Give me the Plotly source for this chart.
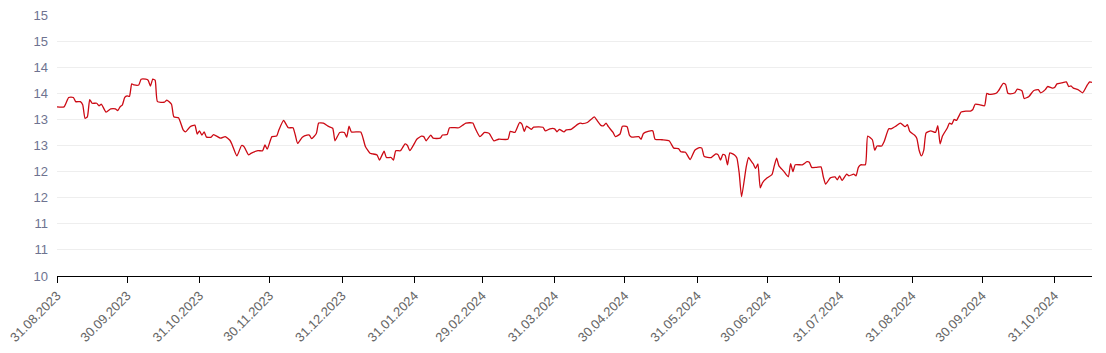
import plotly.graph_objects as go

dates = [
    "2023-08-31","2023-09-03","2023-09-05","2023-09-07","2023-09-08","2023-09-10","2023-09-11","2023-09-12",
    "2023-09-13","2023-09-14","2023-09-15","2023-09-17","2023-09-18","2023-09-19","2023-09-21","2023-09-23",
    "2023-09-25","2023-09-26","2023-09-27","2023-09-28","2023-09-29","2023-09-30","2023-10-01","2023-10-02",
    "2023-10-03","2023-10-05","2023-10-06","2023-10-08","2023-10-09","2023-10-10","2023-10-11","2023-10-12",
    "2023-10-13","2023-10-16","2023-10-17","2023-10-19","2023-10-20","2023-10-22","2023-10-24","2023-10-25",
    "2023-10-27","2023-10-29","2023-10-30","2023-10-31","2023-11-01","2023-11-02","2023-11-03","2023-11-05",
    "2023-11-06","2023-11-09","2023-11-11","2023-11-13","2023-11-14","2023-11-16","2023-11-18","2023-11-19",
    "2023-11-21","2023-11-22","2023-11-25","2023-11-27","2023-11-28","2023-11-29","2023-12-01","2023-12-03",
    "2023-12-04","2023-12-06","2023-12-08","2023-12-10","2023-12-11","2023-12-12","2023-12-14","2023-12-16",
    "2023-12-17","2023-12-18","2023-12-20","2023-12-21","2023-12-23","2023-12-25","2023-12-27","2023-12-28",
    "2023-12-30","2024-01-01","2024-01-02","2024-01-03","2024-01-04","2024-01-08","2024-01-09","2024-01-10",
    "2024-01-12","2024-01-13","2024-01-15","2024-01-16","2024-01-18","2024-01-19","2024-01-21","2024-01-22",
    "2024-01-23","2024-01-25","2024-01-27","2024-01-28","2024-01-29","2024-01-31","2024-02-01","2024-02-03",
    "2024-02-04","2024-02-05","2024-02-07","2024-02-08","2024-02-11","2024-02-12","2024-02-14","2024-02-15",
    "2024-02-19","2024-02-21","2024-02-22","2024-02-25","2024-02-26","2024-02-28","2024-03-01","2024-03-03",
    "2024-03-05","2024-03-07","2024-03-11","2024-03-12","2024-03-14","2024-03-16","2024-03-17","2024-03-18",
    "2024-03-19","2024-03-21","2024-03-22","2024-03-26","2024-03-27","2024-03-29","2024-03-31","2024-04-01",
    "2024-04-02","2024-04-04","2024-04-05","2024-04-07","2024-04-10","2024-04-11","2024-04-12","2024-04-14",
    "2024-04-17","2024-04-18","2024-04-20","2024-04-21","2024-04-22","2024-04-23","2024-04-25","2024-04-26",
    "2024-04-28","2024-04-29","2024-05-01","2024-05-02","2024-05-03","2024-05-06","2024-05-07","2024-05-08",
    "2024-05-10","2024-05-12","2024-05-13","2024-05-16","2024-05-19","2024-05-21","2024-05-23","2024-05-24",
    "2024-05-26","2024-05-28","2024-05-30","2024-06-01","2024-06-02","2024-06-03","2024-06-06","2024-06-08",
    "2024-06-09","2024-06-10","2024-06-11","2024-06-12","2024-06-13","2024-06-14","2024-06-16","2024-06-17",
    "2024-06-18","2024-06-19","2024-06-21","2024-06-22","2024-06-23","2024-06-24","2024-06-25","2024-06-26",
    "2024-06-27","2024-06-28","2024-06-30","2024-07-02","2024-07-03","2024-07-04","2024-07-05","2024-07-07",
    "2024-07-09","2024-07-10","2024-07-11","2024-07-12","2024-07-15","2024-07-17","2024-07-18","2024-07-19",
    "2024-07-21","2024-07-23","2024-07-24","2024-07-25","2024-07-27","2024-07-29","2024-07-30","2024-07-31",
    "2024-08-01","2024-08-03","2024-08-04","2024-08-06","2024-08-07","2024-08-08","2024-08-09","2024-08-11",
    "2024-08-12","2024-08-14","2024-08-15","2024-08-16","2024-08-18","2024-08-19","2024-08-21","2024-08-22",
    "2024-08-24","2024-08-26","2024-08-28","2024-08-29","2024-08-30","2024-09-01","2024-09-02","2024-09-03",
    "2024-09-04","2024-09-05","2024-09-06","2024-09-08","2024-09-10","2024-09-11","2024-09-12","2024-09-13",
    "2024-09-15","2024-09-16","2024-09-17","2024-09-18","2024-09-19","2024-09-21","2024-09-23","2024-09-25",
    "2024-09-26","2024-09-27","2024-09-29","2024-10-01","2024-10-02","2024-10-03","2024-10-06","2024-10-07",
    "2024-10-09","2024-10-10","2024-10-11","2024-10-12","2024-10-14","2024-10-15","2024-10-17","2024-10-18",
    "2024-10-20","2024-10-22","2024-10-24","2024-10-25","2024-10-27","2024-10-28","2024-10-30","2024-10-31",
    "2024-11-01","2024-11-03","2024-11-05","2024-11-06","2024-11-07","2024-11-08","2024-11-10","2024-11-12",
    "2024-11-14","2024-11-15","2024-11-16",
]

values = [
    13.24,13.24,13.42,13.42,13.34,13.34,13.28,13.02,
    13.05,13.38,13.31,13.31,13.26,13.29,13.14,13.20,
    13.20,13.17,13.24,13.28,13.42,13.45,13.44,13.68,
    13.66,13.66,13.77,13.77,13.75,13.64,13.77,13.75,
    13.34,13.33,13.37,13.29,13.05,13.03,12.80,12.76,
    12.86,12.89,12.72,12.78,12.70,12.76,12.66,12.66,
    12.71,12.64,12.67,12.60,12.51,12.30,12.50,12.48,
    12.32,12.35,12.40,12.40,12.51,12.43,12.67,12.68,
    12.80,12.98,12.84,12.84,12.70,12.54,12.66,12.70,
    12.70,12.63,12.73,12.93,12.93,12.87,12.83,12.59,
    12.75,12.75,12.66,12.87,12.76,12.76,12.64,12.48,
    12.35,12.34,12.32,12.22,12.39,12.27,12.27,12.22,
    12.40,12.40,12.53,12.50,12.40,12.54,12.62,12.68,
    12.67,12.59,12.70,12.64,12.64,12.70,12.71,12.84,
    12.84,12.90,12.93,12.93,12.83,12.67,12.75,12.73,
    12.59,12.62,12.62,12.77,12.75,12.94,12.91,12.77,
    12.87,12.81,12.85,12.85,12.78,12.82,12.82,12.76,
    12.81,12.76,12.80,12.81,12.91,12.93,12.92,12.94,
    13.05,12.99,12.88,12.88,12.93,12.86,12.75,12.67,
    12.72,12.87,12.86,12.70,12.66,12.67,12.62,12.73,
    12.77,12.78,12.62,12.61,12.59,12.45,12.44,12.38,
    12.37,12.23,12.41,12.46,12.45,12.29,12.27,12.34,
    12.32,12.22,12.33,12.31,12.13,12.36,12.32,12.26,
    11.97,11.52,12.09,12.27,12.21,12.15,12.06,12.15,
    11.69,11.79,11.88,11.94,12.11,12.26,12.11,12.01,
    11.90,12.15,12.00,12.13,12.13,12.19,12.18,12.08,
    12.08,12.09,11.90,11.76,11.88,11.90,11.84,11.92,
    11.83,11.95,11.92,11.95,11.92,12.08,12.13,12.13,
    12.68,12.61,12.41,12.49,12.49,12.57,12.82,12.82,
    12.87,12.93,12.86,12.90,12.77,12.70,12.64,12.41,
    12.30,12.41,12.74,12.78,12.75,12.88,12.53,12.68,
    12.83,12.93,12.91,13.00,12.98,13.14,13.16,13.16,
    13.19,13.29,13.28,13.26,13.50,13.48,13.50,13.55,
    13.69,13.67,13.50,13.49,13.51,13.58,13.55,13.40,
    13.44,13.55,13.57,13.51,13.57,13.63,13.60,13.61,
    13.68,13.70,13.72,13.63,13.64,13.60,13.57,13.51,
    13.66,13.72,13.71,
]

x_tick_vals = ["2023-08-31","2023-09-30","2023-10-31","2023-11-30","2023-12-31","2024-01-31",
               "2024-02-29","2024-03-31","2024-04-30","2024-05-31","2024-06-30","2024-07-31",
               "2024-08-31","2024-09-30","2024-10-31"]
x_tick_text = ["31.08.2023","30.09.2023","31.10.2023","30.11.2023","31.12.2023","31.01.2024",
               "29.02.2024","31.03.2024","30.04.2024","31.05.2024","30.06.2024","31.07.2024",
               "31.08.2024","30.09.2024","31.10.2024"]
y_tick_vals = [10, 10.5, 11, 11.5, 12, 12.5, 13, 13.5, 14, 14.5, 15]
y_tick_text = ["10", "11", "11", "12", "12", "13", "13", "14", "14", "15", "15"]

fig = go.Figure()
fig.add_trace(go.Scatter(
    x=dates, y=values, mode="lines",
    line=dict(color="#cc0a14", width=1.3, shape="spline", smoothing=0.5),
    hoverinfo="x+y", showlegend=False,
))

fig.update_layout(
    width=1106, height=353,
    margin=dict(l=57, r=14, t=15, b=77, autoexpand=False),
    plot_bgcolor="white", paper_bgcolor="white",
    font=dict(family="Liberation Sans, Arial, sans-serif", size=13, color="#666666"),
    xaxis=dict(
        type="date", range=["2023-08-31", "2024-11-16"], automargin=False,
        tickvals=x_tick_vals, ticktext=x_tick_text, tickangle=-45,
        showline=True, linecolor="#000000", linewidth=1,
        ticks="outside", ticklen=6, tickcolor="#000000", tickwidth=1,
        showgrid=False, zeroline=False,
        tickfont=dict(size=13, color="#666666"),
    ),
    yaxis=dict(
        range=[10, 15], tickvals=y_tick_vals, ticktext=y_tick_text, automargin=False,
        showgrid=True, gridcolor="#eeeeee", gridwidth=1,
        showline=False, zeroline=False, ticks="",
        ticklabelstandoff=8,
        tickfont=dict(size=13, color="#6e7390"),
    ),
)

fig.write_html("out.html")
